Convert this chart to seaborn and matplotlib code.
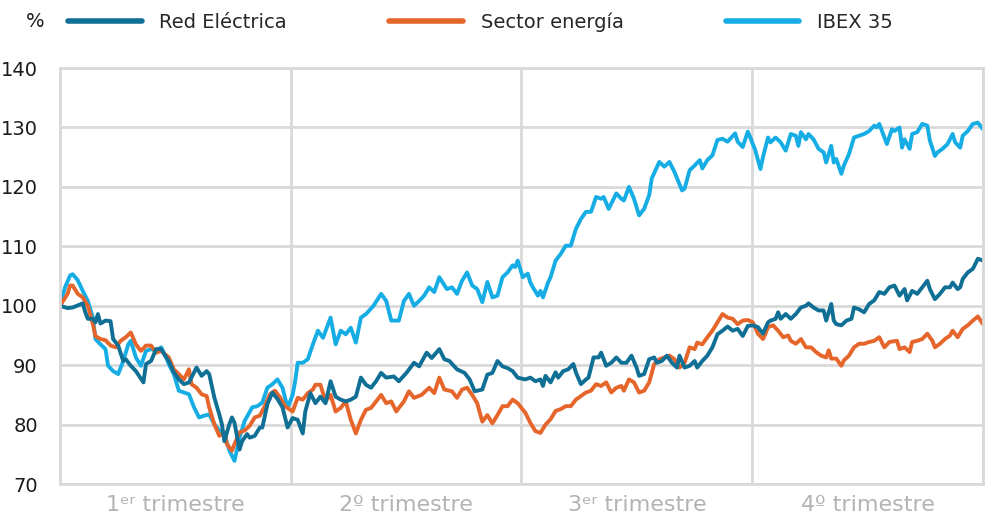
import numpy as np
import pandas as pd
import matplotlib
matplotlib.use('Agg')
import matplotlib.pyplot as plt
import seaborn as sns

# (día del año, índice base 100)
red = [(0, 100.0), (3, 99.6), (5, 99.7), (9, 100.4), (10, 98.9), (11, 97.8), (13, 97.8), (14, 97.2),
       (15, 98.6), (16, 97.0), (18, 97.5), (20, 97.4), (21, 94.4), (23, 93.3), (25, 90.7), (26, 91.0),
       (28, 89.9), (30, 89.0), (33, 87.1), (34, 90.2), (36, 90.7), (38, 92.7), (40, 92.7), (42, 91.3),
       (43, 90.7), (45, 88.8), (47, 87.6), (49, 86.8), (51, 87.1), (54, 89.6), (56, 88.2), (58, 89.0),
       (59, 88.5), (61, 84.6), (63, 81.7), (64, 80.1), (65, 77.2), (67, 80.1), (68, 81.2), (69, 80.3),
       (71, 75.8), (72, 77.2), (74, 78.4), (75, 77.8), (77, 78.1), (79, 79.5), (80, 79.5), (82, 83.4),
       (84, 85.4), (86, 84.3), (88, 82.9), (90, 79.5), (92, 81.1), (94, 80.8), (96, 78.5), (97, 82.2),
       (99, 85.3), (101, 83.6), (103, 84.7), (105, 83.6), (107, 87.3), (109, 84.7), (111, 84.2),
       (113, 83.9), (115, 84.2), (117, 84.7), (119, 87.9), (121, 86.7), (123, 86.2), (125, 87.3),
       (127, 88.7), (129, 87.9), (132, 88.1), (134, 87.3), (137, 88.7), (140, 90.4), (142, 89.8),
       (145, 92.1), (147, 91.2), (150, 92.7), (152, 91.0), (154, 90.7), (157, 89.3), (160, 88.7),
       (162, 87.6), (164, 85.6), (167, 85.9), (169, 88.4), (171, 88.7), (173, 90.7), (175, 89.8),
       (177, 89.5), (179, 89.0), (181, 87.9), (184, 87.6), (186, 87.9), (188, 87.3), (190, 87.6),
       (191, 86.5), (192, 88.2), (194, 87.1), (196, 88.8), (197, 87.9), (199, 89.0), (201, 89.3),
       (203, 90.2), (204, 88.8), (206, 86.8), (208, 87.6), (209, 87.9), (211, 91.3), (213, 91.3),
       (214, 92.1), (216, 89.9), (218, 90.4), (220, 91.3), (222, 90.4), (224, 90.4), (226, 91.6),
       (228, 89.6), (229, 88.2), (231, 88.5), (233, 91.0), (235, 91.3), (236, 90.4), (238, 90.7),
       (240, 91.6), (242, 90.4), (244, 89.6), (245, 91.6), (247, 89.6), (249, 89.9), (251, 90.7),
       (252, 89.6), (254, 90.7), (256, 91.6), (258, 93.0), (260, 95.2), (262, 95.8), (264, 96.5),
       (266, 95.8), (268, 96.1), (270, 94.9), (272, 96.6), (274, 96.7), (276, 96.4), (278, 95.3),
       (280, 97.2), (281, 97.5), (283, 97.8), (284, 98.9), (285, 97.8), (287, 98.6), (289, 97.8),
       (291, 98.6), (293, 99.7), (295, 100.0), (296, 100.4), (298, 99.7), (300, 99.2), (302, 99.2),
       (303, 97.5), (305, 100.3), (306, 97.5), (307, 96.9), (309, 96.7), (311, 97.5), (313, 97.8),
       (314, 99.7), (316, 99.4), (318, 98.9), (320, 100.3), (322, 100.9), (324, 102.3), (326, 102.0),
       (328, 103.1), (330, 103.4), (332, 101.7), (334, 102.8), (335, 100.9), (337, 102.5), (339, 102.0),
       (341, 103.1), (343, 104.2), (344, 102.8), (346, 101.1), (348, 102.0), (350, 103.1), (352, 103.1),
       (353, 103.9), (355, 102.8), (356, 103.1), (357, 104.5), (359, 105.6), (361, 106.2), (363, 107.9),
       (365, 107.6)]

sector = [(0, 100.0), (3, 102.0), (4, 103.4), (5, 103.4), (7, 102.0), (9, 101.4), (11, 100.0), (13, 96.9),
          (14, 94.9), (16, 94.4), (18, 94.2), (20, 93.3), (22, 93.0), (24, 94.1), (26, 94.7), (28, 95.5),
          (30, 93.5), (32, 92.4), (34, 93.3), (36, 93.3), (38, 92.1), (40, 92.4), (43, 91.3), (45, 89.3),
          (47, 88.5), (49, 87.6), (51, 89.3), (52, 86.8), (54, 86.2), (56, 85.1), (58, 84.8), (59, 82.9),
          (61, 80.1), (63, 78.1), (65, 78.7), (66, 76.7), (68, 75.6), (69, 76.7), (71, 78.7), (73, 79.0),
          (75, 79.8), (77, 81.2), (79, 81.5), (81, 83.1), (83, 85.1), (85, 85.7), (87, 84.6), (89, 83.1),
          (92, 82.2), (94, 84.5), (96, 84.2), (98, 85.3), (100, 85.9), (101, 86.7), (103, 86.7),
          (105, 83.9), (107, 85.0), (109, 82.2), (111, 82.8), (113, 83.9), (115, 80.8), (117, 78.5),
          (119, 80.8), (121, 82.5), (123, 82.8), (125, 83.9), (127, 85.0), (129, 83.6), (131, 83.9),
          (133, 82.2), (134, 82.8), (136, 83.9), (138, 85.6), (140, 84.5), (143, 85.0), (146, 86.2),
          (148, 85.3), (150, 87.9), (152, 85.9), (155, 85.6), (157, 84.5), (159, 85.9), (161, 86.2),
          (163, 85.0), (165, 83.6), (167, 80.5), (169, 81.6), (171, 80.2), (173, 81.6), (175, 83.1),
          (177, 83.1), (179, 84.2), (181, 83.6), (184, 82.0), (186, 80.3), (188, 78.9), (190, 78.6),
          (192, 80.0), (194, 80.9), (196, 82.3), (198, 82.6), (200, 83.1), (202, 83.1), (204, 84.2),
          (206, 84.8), (208, 85.4), (210, 85.7), (212, 86.8), (214, 86.5), (216, 87.1), (218, 85.4),
          (220, 86.2), (222, 86.5), (223, 85.7), (225, 87.6), (227, 87.1), (229, 85.4), (231, 85.7),
          (233, 87.1), (235, 90.2), (237, 91.0), (239, 91.3), (241, 91.6), (243, 91.0), (245, 89.6),
          (247, 90.4), (249, 93.0), (251, 92.7), (252, 93.8), (254, 93.5), (256, 94.7), (258, 95.8),
          (260, 97.2), (262, 98.6), (264, 98.0), (266, 97.8), (268, 96.9), (270, 97.5), (272, 97.6),
          (274, 97.2), (276, 95.3), (278, 94.4), (279, 95.3), (280, 96.4), (282, 96.7), (284, 95.8),
          (286, 94.7), (288, 95.0), (289, 94.1), (291, 93.6), (293, 94.4), (295, 93.0), (297, 93.0),
          (299, 92.2), (301, 91.6), (303, 91.3), (304, 92.5), (305, 91.1), (307, 91.1), (309, 89.9),
          (310, 90.8), (312, 91.6), (314, 93.0), (316, 93.6), (318, 93.6), (320, 93.9), (322, 94.1),
          (324, 94.7), (326, 93.0), (328, 93.9), (331, 94.1), (332, 92.7), (334, 93.0), (336, 92.2),
          (337, 93.9), (339, 94.1), (341, 94.4), (343, 95.3), (345, 94.1), (346, 93.0), (348, 93.6),
          (350, 94.4), (352, 95.0), (353, 95.8), (355, 94.7), (357, 96.1), (359, 96.7), (361, 97.5),
          (363, 98.2), (365, 96.9)]

ibex = [(0, 100.0), (2, 103.1), (4, 105.1), (5, 105.3), (7, 104.3), (9, 102.5), (11, 100.8), (13, 98.0),
        (14, 94.4), (16, 93.5), (18, 92.7), (19, 89.9), (21, 89.0), (23, 88.5), (25, 90.7), (27, 93.5),
        (28, 94.1), (30, 91.3), (32, 89.9), (34, 92.4), (36, 92.7), (38, 92.4), (40, 93.0), (42, 91.3),
        (43, 90.2), (45, 88.5), (47, 85.7), (49, 85.4), (51, 85.1), (53, 82.9), (55, 81.2), (57, 81.5),
        (59, 81.7), (61, 80.1), (63, 79.0), (65, 78.4), (67, 75.6), (69, 73.9), (71, 77.8), (73, 80.6),
        (76, 82.9), (78, 83.1), (80, 83.7), (82, 86.2), (84, 86.8), (86, 87.6), (88, 86.2), (90, 82.8),
        (92, 85.0), (93, 87.3), (94, 90.4), (96, 90.4), (98, 91.0), (100, 93.5), (102, 95.8),
        (104, 94.6), (107, 98.0), (109, 93.5), (111, 95.8), (113, 95.2), (115, 96.3), (117, 93.8),
        (119, 98.0), (121, 98.6), (124, 100.0), (127, 102.0), (129, 100.8), (131, 97.5), (134, 97.5),
        (136, 100.8), (138, 102.0), (140, 100.0), (142, 100.8), (144, 101.7), (146, 103.1),
        (148, 102.3), (150, 104.8), (153, 102.8), (155, 103.1), (157, 102.0), (159, 104.2),
        (161, 105.6), (163, 103.4), (165, 102.8), (167, 100.6), (169, 104.0), (171, 101.4),
        (173, 101.7), (175, 104.8), (177, 105.6), (179, 106.8), (180, 106.5), (181, 107.6),
        (183, 104.8), (185, 105.4), (186, 103.9), (187, 103.1), (189, 101.7), (190, 102.5),
        (191, 101.4), (193, 103.9), (194, 104.8), (196, 107.6), (198, 108.7), (200, 110.1),
        (202, 110.1), (204, 112.9), (206, 114.6), (208, 115.8), (210, 115.8), (212, 118.3),
        (214, 118.0), (215, 118.3), (217, 116.3), (220, 118.9), (222, 118.0), (223, 117.7),
        (225, 120.0), (227, 118.0), (229, 115.2), (231, 116.3), (233, 118.6), (234, 121.4),
        (237, 124.2), (239, 123.4), (241, 124.2), (243, 122.5), (246, 119.4), (247, 119.7),
        (249, 122.8), (251, 123.6), (253, 124.5), (254, 123.1), (256, 124.5), (258, 125.3),
        (260, 127.9), (262, 128.1), (264, 127.6), (267, 129.0), (268, 127.6), (270, 126.7),
        (272, 129.3), (273, 128.3), (275, 126.1), (277, 123.0), (278, 125.0), (280, 128.3),
        (281, 127.5), (283, 128.3), (285, 127.5), (287, 126.1), (289, 128.9), (291, 128.6),
        (292, 126.9), (293, 129.2), (295, 128.0), (296, 128.9), (298, 128.0), (300, 126.4),
        (302, 125.8), (303, 124.1), (305, 126.9), (306, 124.1), (307, 124.7), (309, 122.2),
        (310, 123.6), (312, 125.5), (314, 128.3), (316, 128.6), (318, 128.9), (320, 129.4),
        (322, 130.3), (323, 130.0), (324, 130.6), (326, 128.3), (327, 127.2), (329, 129.7),
        (330, 129.4), (332, 130.0), (333, 126.6), (334, 128.0), (336, 126.4), (337, 128.9),
        (339, 129.2), (341, 130.6), (343, 130.3), (344, 127.8), (346, 125.2), (347, 125.8),
        (349, 126.4), (351, 127.2), (353, 128.9), (354, 127.5), (356, 126.6), (357, 128.6),
        (359, 129.4), (361, 130.6), (363, 130.8), (365, 129.7)]

series = ['Red Eléctrica', 'Sector energía', 'IBEX 35']
colores = ['#106f95', '#e5652a', '#16ade5']
trimestres = ['1ᵉʳ trimestre', '2º trimestre', '3ᵉʳ trimestre', '4º trimestre']

frames = []
for nombre, datos in zip(series, [red, sector, ibex]):
    d = pd.DataFrame(datos, columns=['dia', 'valor'])
    d['serie'] = nombre
    frames.append(d)
df = pd.concat(frames, ignore_index=True)

sns.set_style('white')
plt.rcParams['font.family'] = ['DejaVu Sans']

fig, ax = plt.subplots(figsize=(9.87, 5.18), dpi=100)
fig.subplots_adjust(left=0.0608, right=0.9959, bottom=0.0656, top=0.8687)

# IBEX primero, Red Eléctrica encima
sns.lineplot(data=df, x='dia', y='valor', hue='serie', hue_order=series[::-1],
             palette=dict(zip(series, colores)), estimator=None, sort=False,
             linewidth=2.8, ax=ax)

ax.set_xlim(0, 365)
ax.set_ylim(70, 140)
ax.set_yticks(range(70, 141, 10))
ax.set_xticks(np.linspace(0, 365, 5))
ax.set_xticklabels([])
ax.set_xticks(np.linspace(0, 365, 5)[:-1] + 365 / 8, minor=True)
ax.set_xticklabels(trimestres, minor=True)
ax.set_xlabel('')
ax.set_ylabel('')

ax.set_axisbelow(True)
ax.grid(True, which='major', color='#d9d9d9', linewidth=2)
for s in ax.spines.values():
    s.set_color('#d9d9d9')
    s.set_linewidth(2)

ax.tick_params(axis='y', length=0, pad=16, labelsize=14, labelcolor='#1a1a1a')
ax.tick_params(axis='x', which='both', length=0)
ax.tick_params(axis='x', which='minor', pad=8, labelsize=16, labelcolor='#b3b3b3')

ax.legend_.remove()
handles = [plt.Line2D([], [], color=c, linewidth=4) for c in colores]
fig.legend(handles, series, loc='center left', bbox_to_anchor=(0.069, 0.958), ncol=3,
           frameon=False, handlelength=3.8, handletextpad=0.9, columnspacing=5.25,
           fontsize=14, borderpad=0, borderaxespad=0)
fig.text(0.036, 0.958, '%', ha='center', va='center', fontsize=14, color='#1a1a1a')

fig.savefig('out.png', dpi=100)
